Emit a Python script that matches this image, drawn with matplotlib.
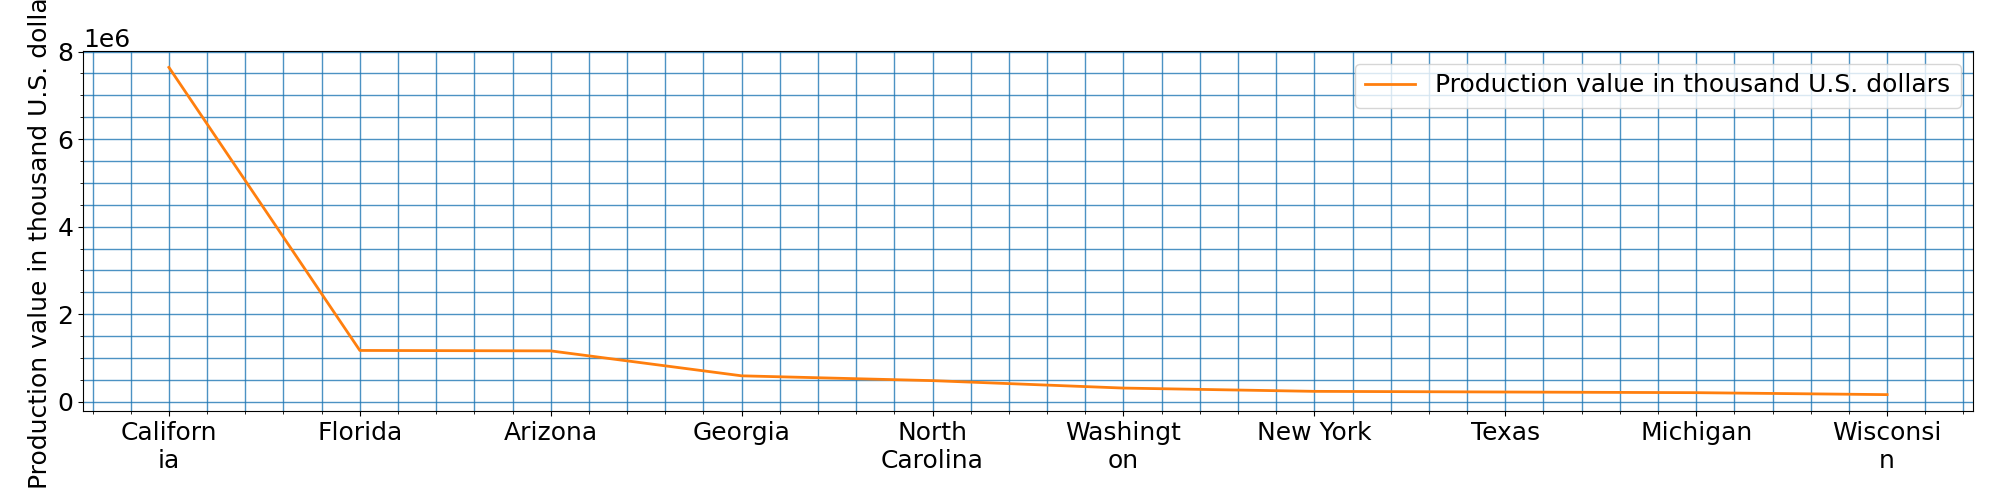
import textwrap
import matplotlib
matplotlib.use("Agg")
import matplotlib.pyplot as plt
from matplotlib.ticker import AutoMinorLocator

# values
states = ["California", "Florida", "Arizona", "Georgia", "North Carolina",
          "Washington", "New York", "Texas", "Michigan", "Wisconsin"]
production = [7640000, 1170000, 1160000, 590000, 480000,
              310000, 235000, 220000, 205000, 160000]
series_name = "Production value in thousand U.S. dollars"

plt.rcParams["font.size"] = 18

fig, ax = plt.subplots(figsize=(20, 5), dpi=100)
x = list(range(len(states)))
ax.plot(x, production, color="C1", lw=2, label=series_name)

labels = ["\n".join(textwrap.wrap(s, 8)) for s in states]
ax.set_xticks(x)
ax.set_xticklabels(labels)
ax.xaxis.set_minor_locator(AutoMinorLocator(5))
ax.yaxis.set_minor_locator(AutoMinorLocator(4))
ax.grid(which="both", color="C0", lw=1, alpha=0.8)
ax.set_axisbelow(True)
ax.set_ylabel(series_name)
ax.legend(loc="upper right")

fig.subplots_adjust(left=0.0415, right=0.9865, top=0.898, bottom=0.178)
fig.savefig("out.png")
